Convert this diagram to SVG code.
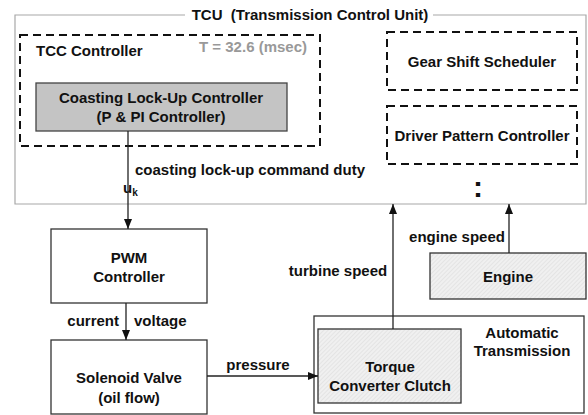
<svg xmlns="http://www.w3.org/2000/svg" width="588" height="415" viewBox="0 0 588 415">
<style>
text{font-family:"Liberation Sans",Arial,sans-serif;font-weight:bold;font-size:15px;fill:#111}
.c{text-anchor:middle}
.dash{fill:none;stroke:#111;stroke-width:2;stroke-dasharray:8 5}
.box{fill:#fff;stroke:#333;stroke-width:1.3}
.hatch{fill:url(#h);stroke:#333;stroke-width:1.3}
.ln{fill:none;stroke:#222;stroke-width:1.3}
</style>
<defs>
<pattern id="h" width="3" height="3" patternUnits="userSpaceOnUse" patternTransform="rotate(45)">
<rect width="3" height="3" fill="#f0f0f0"/>
<line x1="0" y1="0" x2="0" y2="3" stroke="#d8d8d8" stroke-width="1"/>
</pattern>
<marker id="a" viewBox="0 0 10 10" refX="10" refY="5" markerWidth="10" markerHeight="10" markerUnits="userSpaceOnUse" orient="auto">
<path d="M0,1 L10,5 L0,9 Z" fill="#111"/>
</marker>
</defs>
<rect width="588" height="415" fill="#fff"/>
<g id="tcu">
<path d="M185,15 H15 V204 H586 V15 H433" fill="none" stroke="#a8a8a8" stroke-width="1.2"/>
<text class="c" x="310" y="20">TCU&#160;&#160;(Transmission Control Unit)</text>
</g>
<g id="tcc">
<rect class="dash" x="20" y="35" width="300" height="111"/>
<text x="36" y="56">TCC Controller</text>
<text x="307" y="52" style="fill:#999;text-anchor:end">T = 32.6 (msec)</text>
</g>
<g id="coasting">
<rect x="36" y="83" width="251" height="48" fill="#c4c4c4" stroke="#444" stroke-width="1.3"/>
<text class="c" x="161" y="103">Coasting Lock-Up Controller</text>
<text class="c" x="161" y="122">(P &amp; PI Controller)</text>
</g>
<g id="gear">
<rect class="dash" x="387" y="32" width="190" height="58"/>
<text class="c" x="482" y="67">Gear Shift Scheduler</text>
</g>
<g id="driver">
<rect class="dash" x="387" y="106" width="190" height="58"/>
<text class="c" x="482" y="141">Driver Pattern Controller</text>
</g>
<text class="c" x="478" y="197" style="font-size:30px">:</text>
<g id="pwm">
<rect class="box" x="51" y="229" width="156" height="74"/>
<text class="c" x="129" y="263">PWM</text>
<text class="c" x="129" y="282">Controller</text>
</g>
<g id="solenoid">
<rect class="box" x="51" y="340" width="156" height="74"/>
<text class="c" x="129" y="383">Solenoid Valve</text>
<text class="c" x="129" y="403">(oil flow)</text>
</g>
<g id="at">
<rect class="box" x="314" y="316" width="270" height="97"/>
<text class="c" x="522" y="338">Automatic</text>
<text class="c" x="522" y="356">Transmission</text>
</g>
<g id="tcc-clutch">
<rect class="hatch" x="318" y="329" width="143" height="74"/>
<text class="c" x="390" y="372">Torque</text>
<text class="c" x="390" y="391">Converter Clutch</text>
</g>
<g id="engine">
<rect class="hatch" x="430" y="253" width="156" height="46"/>
<text class="c" x="508" y="282">Engine</text>
</g>
<g id="connectors">
<path class="ln" d="M128,131 V229" marker-end="url(#a)"/>
<path class="ln" d="M126,303 V340" marker-end="url(#a)"/>
<path class="ln" d="M207,376 H318" marker-end="url(#a)"/>
<path class="ln" d="M393,329 V204" marker-end="url(#a)"/>
<path class="ln" d="M509,253 V204" marker-end="url(#a)"/>
</g>
<g id="labels">
<text x="135" y="175">coasting lock-up command duty</text>
<text x="123" y="193">u<tspan dy="3" style="font-size:10px">k</tspan></text>
<text x="119" y="326" style="text-anchor:end">current</text>
<text x="134" y="326">voltage</text>
<text class="c" x="258" y="370">pressure</text>
<text class="c" x="338" y="276">turbine speed</text>
<text class="c" x="457" y="242">engine speed</text>
</g>
</svg>
